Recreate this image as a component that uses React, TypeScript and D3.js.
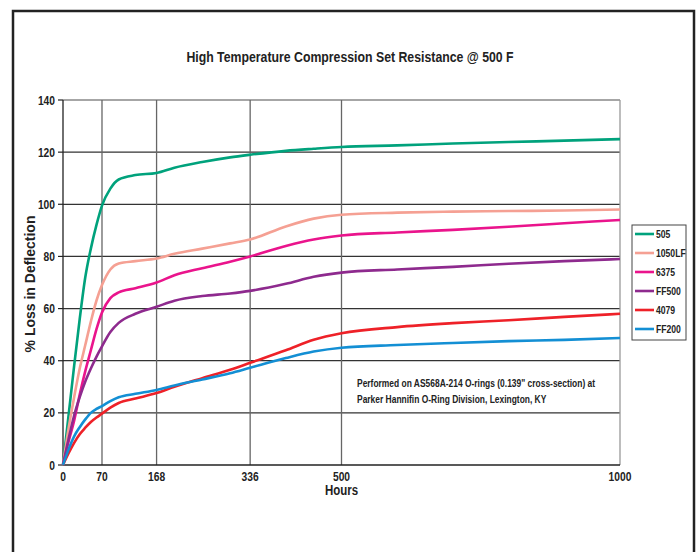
import React from "react";
import * as d3 from "d3";

const hours = [0, 10, 20, 30, 40, 50, 60, 70, 85, 100, 130, 168, 200, 250, 300, 336, 400, 450, 500, 600, 700, 800, 900, 1000];
const s505 = [0, 19, 38, 56, 72, 83, 92, 99.5, 106, 109.5, 111.2, 112, 114, 116.2, 118, 119, 120.5, 121.3, 122, 122.6, 123.3, 123.9, 124.4, 125];
const s1050LF = [0, 14, 26, 37, 46, 55, 63, 69, 75, 77.3, 78.2, 79.2, 81, 83, 85, 86.5, 91.5, 94.5, 96, 96.8, 97.2, 97.4, 97.6, 98];
const s6375 = [0, 9, 17, 27, 36, 44, 52, 58.5, 64, 66.2, 67.8, 70, 72.8, 75.5, 78, 80, 84, 86.5, 88, 89.2, 90.2, 91.4, 92.7, 94];
const sFF500 = [0, 10, 19, 26, 32, 37, 41.5, 45.5, 51, 54.5, 58, 60.7, 63, 64.8, 65.8, 66.8, 69.5, 72.2, 73.8, 75, 76, 77.2, 78.2, 79];
const s4079 = [0, 4.5, 8.5, 11.8, 14.3, 16.5, 18.2, 19.7, 22, 23.8, 25.5, 27.6, 30, 33.3, 36.5, 39.2, 44, 48, 50.5, 52.9, 54.4, 55.5, 56.8, 58];
const sFF200 = [0, 6, 11, 14.5, 17.5, 20, 21.5, 22.6, 24.5, 26, 27.3, 28.8, 30.5, 32.8, 35.2, 37.3, 41, 43.5, 45, 46, 46.8, 47.5, 48, 48.7];

const seriesNames = ["505", "1050LF", "6375", "FF500", "4079", "FF200"];
const seriesValues = [s505, s1050LF, s6375, sFF500, s4079, sFF200];
const seriesColors = ["#00a27c", "#f5a093", "#ea148c", "#8e2a8e", "#ee2128", "#138fd4"];

const xTicks = [0, 70, 168, 336, 500, 1000];
const yTicks = [0, 20, 40, 60, 80, 100, 120, 140];

const title = "High Temperature Compression Set Resistance @ 500 F";
const xTitle = "Hours";
const yTitle = "% Loss in Deflection";
const note = ["Performed on AS568A-214 O-rings (0.139\" cross-section) at", "Parker Hannifin O-Ring Division, Lexington, KY"];

const SANS = "'Liberation Sans', Arial, sans-serif";
const SQ = 0.82;

function NText(props: { x: number; y: number; size: number; anchor?: string; children: React.ReactNode }) {
  return (
    <g transform={`translate(${props.x},${props.y}) scale(${SQ},1)`}>
      <text x={0} y={0} textAnchor={props.anchor || "start"} fontFamily={SANS} fontWeight="bold" fontSize={props.size} fill="#222">
        {props.children}
      </text>
    </g>
  );
}

export default function App() {
  const W = 699, H = 552;
  const x = d3.scaleLinear().domain([0, 1000]).range([63, 620]);
  const y = d3.scaleLinear().domain([0, 140]).range([465, 100]);
  const line = d3.line<number>().x((_, i) => x(hours[i])).y((v) => y(v)).curve(d3.curveMonotoneX);

  return (
    <svg width={W} height={H} style={{ position: "absolute", left: 0, top: 0, background: "#fff" }}>
      <rect x={13} y={11} width={681} height={560} fill="#fff" stroke="#222" strokeWidth={2.5} />
      <NText x={350} y={62} size={15} anchor="middle">{title}</NText>

      {yTicks.filter((t) => t > 0).map((t) => (
        <line key={"h" + t} x1={x(0)} x2={x(1000)} y1={y(t)} y2={y(t)} stroke={t === 140 ? "#888" : "#333"} strokeWidth={1.3} />
      ))}
      {xTicks.filter((t) => t > 0).map((t) => (
        <line key={"v" + t} x1={x(t)} x2={x(t)} y1={y(0)} y2={y(140)} stroke={t === 1000 ? "#999" : "#666"} strokeWidth={1.3} />
      ))}
      <line x1={x(0)} x2={x(0)} y1={y(0)} y2={y(140)} stroke="#222" strokeWidth={1.3} />
      <line x1={x(0)} x2={x(1000)} y1={y(0)} y2={y(0)} stroke="#222" strokeWidth={1.3} />
      {yTicks.map((t) => (
        <g key={"yt" + t}>
          <line x1={x(0) - 5} x2={x(0)} y1={y(t)} y2={y(t)} stroke="#222" strokeWidth={1.2} />
          <NText x={55} y={y(t) + 4.5} size={12.5} anchor="end">{t}</NText>
        </g>
      ))}
      {xTicks.map((t) => (
        <NText key={"xt" + t} x={x(t)} y={481} size={12.5} anchor="middle">{t}</NText>
      ))}
      <NText x={x(500)} y={495} size={14} anchor="middle">{xTitle}</NText>
      <text transform={`translate(35,${284}) rotate(-90)`} textAnchor="middle" fontFamily={SANS} fontWeight="bold" fontSize={14} fill="#222">{yTitle}</text>

      {seriesValues.map((vals, i) => (
        <path key={seriesNames[i]} d={line(vals) || ""} fill="none" stroke={seriesColors[i]} strokeWidth={2.6} strokeLinejoin="round" />
      ))}

      {note.map((n, i) => (
        <NText key={"n" + i} x={357} y={387 + i * 16} size={10.3}>{n}</NText>
      ))}

      <rect x={632} y={225} width={54} height={115} fill="#fff" stroke="#444" strokeWidth={1} />
      {seriesNames.map((n, i) => (
        <g key={"lg" + n}>
          <line x1={635} x2={654} y1={234 + i * 19} y2={234 + i * 19} stroke={seriesColors[i]} strokeWidth={2.6} />
          <NText x={656} y={237.5 + i * 19} size={10.5}>{n}</NText>
        </g>
      ))}
    </svg>
  );
}
